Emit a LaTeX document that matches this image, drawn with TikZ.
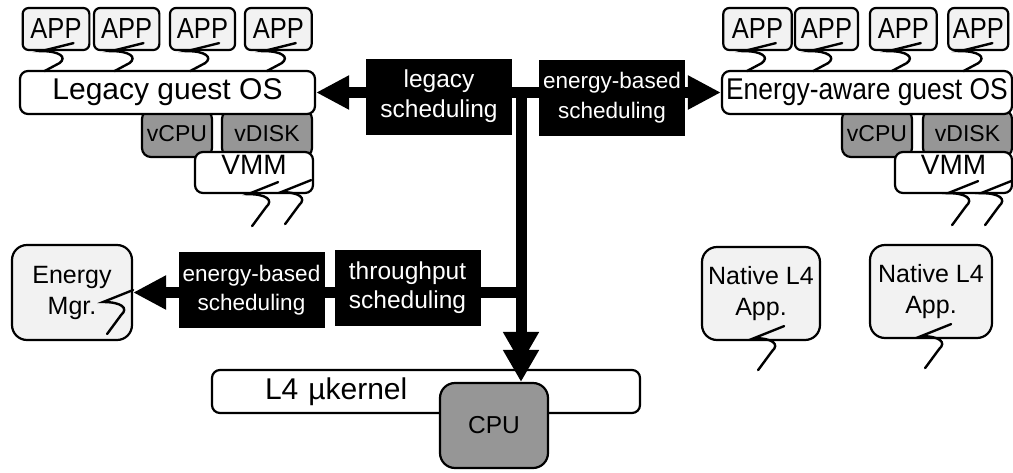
\documentclass[tikz,border=0pt]{standalone}
\usepackage{fontspec}
\setmainfont{Liberation Sans}
\newfontfamily\narrowfont[FakeStretch=0.88]{Liberation Sans}
\usetikzlibrary{arrows.meta}

\definecolor{boxgray}{RGB}{242,242,242}
\definecolor{hwgray}{RGB}{150,150,150}

\tikzset{
  box/.style={draw, line width=2.2pt, rounded corners=8pt, inner sep=0pt, align=center},
  appbox/.style={box, fill=boxgray, rounded corners=6pt, minimum height=42pt,
    font=\narrowfont\fontsize{29}{30}\selectfont},
  osbox/.style={box, fill=white, minimum height=43pt, font=\fontsize{30}{32}\selectfont},
  virtbox/.style={box, fill=hwgray, rounded corners=9pt, minimum height=47pt,
    font=\fontsize{23}{25}\selectfont},
  vmmbox/.style={box, fill=white, minimum height=41pt, text depth=15pt,
    font=\fontsize{28}{30}\selectfont},
  taskbox/.style={box, fill=boxgray, rounded corners=15pt, font=\fontsize{25}{31}\selectfont},
  sched/.style={fill=black, text=white, inner sep=0pt, align=center,
    minimum width=146pt, minimum height=76pt},
  flow/.style={line width=11pt, -{Triangle[length=33pt,width=32pt]}},
  thread/.style={line width=2.4pt, line cap=round},
  appthread/.pic={\draw[thread] (0,0) -- (-32,8) .. controls (-14,8) and (-6,14) .. (-14,20) -- (-29,28);},
  longthread/.pic={\draw[thread] (0,0) -- (-30,12) .. controls (-12,12) and (-4,18) .. (-12,25) -- (-26,44);}
}

\begin{document}
\begin{tikzpicture}[x=1pt,y=-1pt]
\useasboundingbox (0,0) rectangle (1013,472);

% legacy guest
\node[virtbox, minimum width=70pt] (lvcpu) at (177,133.5) {vCPU};
\node[virtbox, minimum width=90pt] (lvdisk) at (267,133.5) {vDISK};
\node[osbox, minimum width=295pt] (lgos) at (167.5,92.5) {Legacy guest OS};
\node[vmmbox, minimum width=118pt] (lvmm) at (254,172.5) {VMM};
\node[appbox, minimum width=66.7pt] (lapp1) at (56,29) {APP};
\node[appbox, minimum width=65.3pt] (lapp2) at (126.7,29) {APP};
\node[appbox, minimum width=65pt] (lapp3) at (202.5,29) {APP};
\node[appbox, minimum width=66.7pt] (lapp4) at (278.3,29) {APP};
\pic at ([shift={(-17,-8)}]lapp1.south east) {appthread};
\pic at ([shift={(-17,-8)}]lapp2.south east) {appthread};
\pic at ([shift={(-17,-8)}]lapp3.south east) {appthread};
\pic at ([shift={(-17,-8)}]lapp4.south east) {appthread};
\pic at ([shift={(-36,-12)}]lvmm.south east) {longthread};
\pic at ([shift={(-3,-14)}]lvmm.south east) {longthread};

% energy-aware guest
\node[virtbox, minimum width=70pt] (evcpu) at (877,133.5) {vCPU};
\node[virtbox, minimum width=89pt] (evdisk) at (967.5,133.5) {vDISK};
\node[osbox, minimum width=290pt, font=\narrowfont\fontsize{30}{32}\selectfont] (egos) at (867,92.5) {Energy-aware guest OS};
\node[vmmbox, minimum width=117pt] (evmm) at (953.5,172.5) {VMM};
\node[appbox, minimum width=68.4pt] (eapp1) at (757.5,29) {APP};
\node[appbox, minimum width=63pt] (eapp2) at (826.5,29) {APP};
\node[appbox, minimum width=66.7pt] (eapp3) at (903.3,29) {APP};
\node[appbox, minimum width=60pt] (eapp4) at (978.3,29) {APP};
\pic at ([shift={(-17,-8)}]eapp1.south east) {appthread};
\pic at ([shift={(-17,-8)}]eapp2.south east) {appthread};
\pic at ([shift={(-17,-8)}]eapp3.south east) {appthread};
\pic at ([shift={(-17,-8)}]eapp4.south east) {appthread};
\pic at ([shift={(-35,-13)}]evmm.south east) {longthread};
\pic at ([shift={(-2,-13)}]evmm.south east) {longthread};

% native tasks
\node[taskbox, minimum width=120pt, minimum height=95pt] (emgr) at (72,292.5) {Energy\\Mgr.};
\node[taskbox, minimum width=118pt, minimum height=93pt] (nat1) at (761,293.5) {Native L4\\App.};
\node[taskbox, minimum width=122pt, minimum height=93pt] (nat2) at (931,291.5) {Native L4\\App.};
\pic at ([shift={(0,-2.5)}]emgr.east) {longthread};
\pic at ([shift={(-37,-15)}]nat1.south east) {longthread};
\pic at ([shift={(-42,-15)}]nat2.south east) {longthread};

% kernel and cpu
\node[osbox, minimum width=428pt, inner xsep=53pt, text width=322pt, align=left] (l4) at (426,391.5) {L4 µkernel};
\node[box, fill=hwgray, rounded corners=15pt, minimum width=108pt, minimum height=85pt,
  font=\fontsize{24.5}{26}\selectfont] (cpu) at (494,425.5) {CPU};

% scheduling paths
\coordinate (fork) at (521,92.5);
\draw[flow, {Triangle[length=33pt,width=32pt]}-{Triangle[length=33pt,width=32pt]}] (lgos.east) -- (egos.west);
\draw[line width=11pt, -{Triangle[length=32pt,width=34pt,sep=-14pt]Triangle[length=32pt,width=34pt]}] (fork) -- (fork |- cpu.north);
\draw[flow] (fork |- emgr.east) -- (emgr.east);
\node[sched, font=\fontsize{24.5}{30}\selectfont] (legsched) at (439,96.5) {legacy\\scheduling};
\node[sched, font=\fontsize{22.5}{30}\selectfont] (easched) at (612,98) {energy-based\\scheduling};
\node[sched, font=\fontsize{22.5}{29}\selectfont] (emsched) at (251.5,290) {energy-based\\scheduling};
\node[sched, font=\fontsize{24.5}{29}\selectfont] (tpsched) at (407.5,287.5) {throughput\\scheduling};
\end{tikzpicture}
\end{document}
